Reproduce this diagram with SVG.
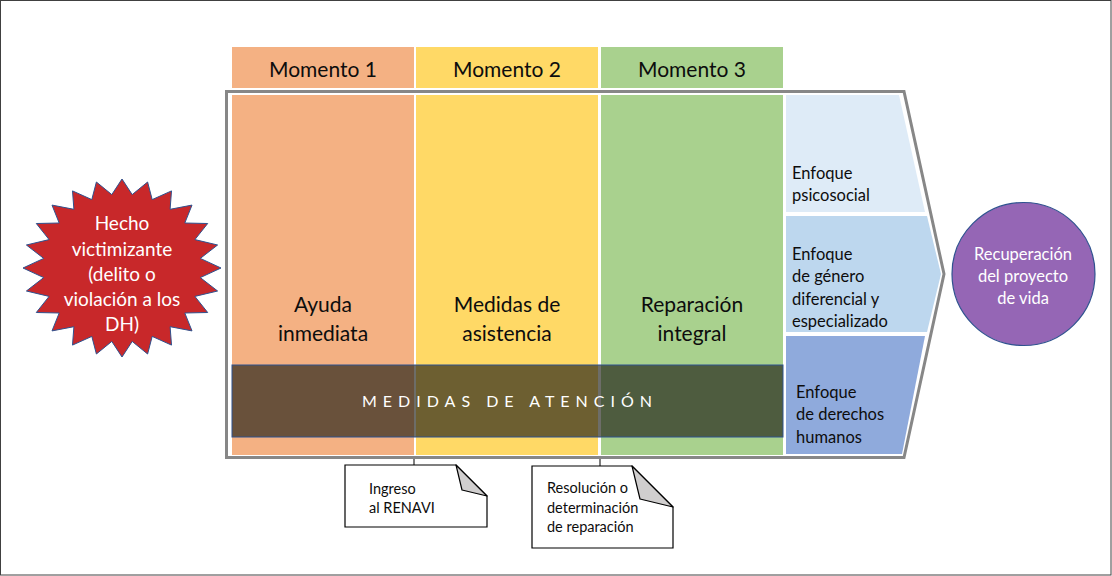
<svg xmlns="http://www.w3.org/2000/svg" width="1112" height="576" viewBox="0 0 1112 576">
<style>
  text { font-family: Lato, "Open Sans", "Liberation Sans", sans-serif; }
  .hdr { font-size: 21px; fill: #0d0d0d; text-anchor: middle; }
  .col { font-size: 21px; fill: #0d0d0d; text-anchor: middle; }
  .band { font-size: 16.5px; fill: #0d0d0d; }
  .white { fill: #ffffff; text-anchor: middle; }
  .note { font-size: 14.5px; fill: #0d0d0d; }
  .o { fill: #F4B183; }
  .y { fill: #FFD966; }
  .g { fill: #A9D18E; }
  .box { fill: #ffffff; stroke: #000000; stroke-width: 1.2; }
  .fold { fill: #D0CECE; stroke: #000000; stroke-width: 1.2; stroke-linejoin: round; }
  .conn { stroke: #7F7F7F; stroke-width: 2; fill: none; }
</style>
<rect x="0" y="0" width="1112" height="576" fill="#ffffff"/>
<rect x="0.5" y="0.5" width="1110.5" height="574.5" fill="none" stroke="#404040" stroke-width="1"/>

<g id="headers">
  <rect class="o" x="232" y="47" width="182" height="41"/>
  <rect class="y" x="416" y="47" width="182" height="41"/>
  <rect class="g" x="601" y="47" width="182" height="41"/>
  <text class="hdr" x="323" y="77">Momento 1</text>
  <text class="hdr" x="507" y="77">Momento 2</text>
  <text class="hdr" x="692" y="77">Momento 3</text>
</g>

<g id="frame">
  <polygon points="226.5,91.5 904,91.5 944,274 904,457.5 226.5,457.5" fill="#ffffff" stroke="#878787" stroke-width="3" stroke-linejoin="miter"/>
</g>

<g id="col-ayuda">
  <rect class="o" x="232" y="95" width="182" height="360"/>
  <text class="col" x="323" y="312">Ayuda</text>
  <text class="col" x="323" y="341">inmediata</text>
</g>
<g id="col-asistencia">
  <rect class="y" x="416" y="95" width="182" height="360"/>
  <text class="col" x="507" y="312">Medidas de</text>
  <text class="col" x="507" y="341">asistencia</text>
</g>
<g id="col-reparacion">
  <rect class="g" x="601" y="95" width="182" height="360"/>
  <text class="col" x="692" y="312">Reparación</text>
  <text class="col" x="692" y="341">integral</text>
</g>

<g id="enfoque-psicosocial">
  <polygon points="786,95 899,95 925,212 786,212" fill="#DEEBF7"/>
  <text class="band" x="792" y="179">Enfoque</text>
  <text class="band" x="792" y="201">psicosocial</text>
</g>
<g id="enfoque-genero">
  <polygon points="786,216 927,216 941,274 927,332 786,332" fill="#BDD7EE"/>
  <text class="band" x="792" y="260">Enfoque</text>
  <text class="band" x="792" y="282">de género</text>
  <text class="band" x="792" y="305">diferencial y</text>
  <text class="band" x="792" y="327">especializado</text>
</g>
<g id="enfoque-ddhh">
  <polygon points="786,336 925,336 902,454 786,454" fill="#8FAADC"/>
  <text class="band" x="796" y="398">Enfoque</text>
  <text class="band" x="796" y="420">de derechos</text>
  <text class="band" x="796" y="443">humanos</text>
</g>

<g id="medidas-atencion">
  <rect x="232" y="365" width="551" height="72" fill="#1a1a12" fill-opacity="0.64" stroke="#2F528F" stroke-width="1"/>
  <text class="white" x="510" y="407" font-size="16" letter-spacing="6" fill="#f2f2f2">MEDIDAS DE ATENCIÓN</text>
</g>

<g id="hecho-victimizante">
  <polygon fill="#C8282A" stroke="#2F528F" stroke-width="1" stroke-linejoin="miter" points="221,268 200.3,277.6 217.6,291 194.9,296.4 207.7,312.5 184.8,313 192,330.9 170.1,326.7 171.5,345.1 152.2,336.4 147.6,354 132.2,341.4 122,357 111.8,341.4 96.4,354 91.8,336.4 72.5,345.1 73.9,326.7 52,330.9 59.2,313 36.3,312.5 49.1,296.4 26.4,291 43.7,277.6 23,268 43.7,258.4 26.4,245 49.1,239.6 36.3,223.5 59.2,223 52,205.1 73.9,209.3 72.5,190.9 91.8,199.6 96.4,182 111.8,194.6 122,179 132.2,194.6 147.6,182 152.2,199.6 171.5,190.9 170.1,209.3 192,205.1 184.8,223 207.7,223.5 194.9,239.6 217.6,245 200.3,258.4"/>
  <text class="white" x="122" y="230" font-size="19">Hecho</text>
  <text class="white" x="122" y="255.5" font-size="19">victimizante</text>
  <text class="white" x="122" y="281" font-size="19">(delito o</text>
  <text class="white" x="122" y="306" font-size="19">violación a los</text>
  <text class="white" x="122" y="331" font-size="19">DH)</text>
</g>

<g id="recuperacion">
  <circle cx="1023.5" cy="274" r="71.5" fill="#9566B5" stroke="#2F528F" stroke-width="1.2"/>
  <text class="white" x="1023" y="260" font-size="16.5">Recuperación</text>
  <text class="white" x="1023" y="282" font-size="16.5">del proyecto</text>
  <text class="white" x="1023" y="304" font-size="16.5">de vida</text>
</g>

<g id="connectors">
  <line class="conn" x1="414" y1="459" x2="414" y2="465"/>
  <line class="conn" x1="600" y1="459" x2="600" y2="466"/>
</g>

<g id="nota-renavi">
  <polygon class="box" points="345,465 456,465 487,496 487,527 345,527"/>
  <polygon class="fold" points="456,465 462,490 487,496"/>
  <text class="note" x="369" y="494">Ingreso</text>
  <text class="note" x="369" y="513">al RENAVI</text>
</g>
<g id="nota-resolucion">
  <polygon class="box" points="532,466 632,466 673,507 673,548 532,548"/>
  <polygon class="fold" points="632,466 640,499 673,507"/>
  <text class="note" x="547" y="493">Resolución o</text>
  <text class="note" x="547" y="513">determinación</text>
  <text class="note" x="547" y="532">de reparación</text>
</g>
</svg>
